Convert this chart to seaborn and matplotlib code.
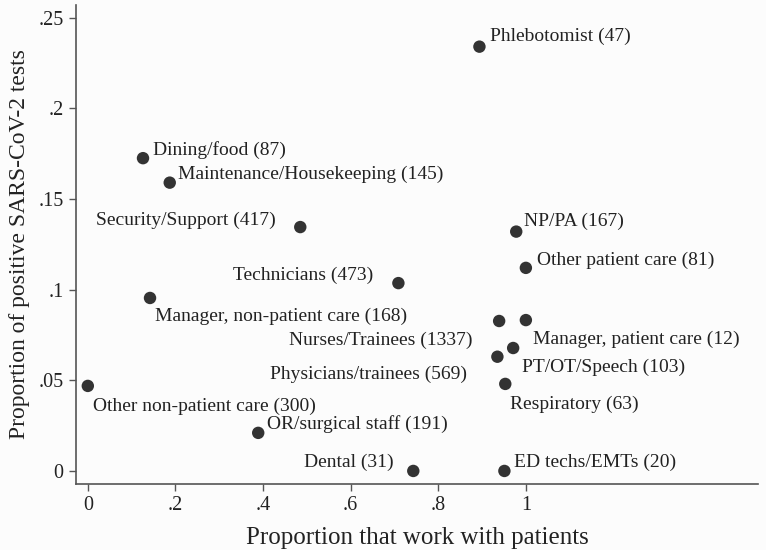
import pandas as pd
import seaborn as sns
import matplotlib.pyplot as plt

# Values
groups = ["Phlebotomist", "Dining/food", "Maintenance/Housekeeping", "Security/Support",
          "NP/PA", "Other patient care", "Technicians", "Manager, non-patient care",
          "Nurses/Trainees", "Manager, patient care", "PT/OT/Speech", "Physicians/trainees",
          "Respiratory", "Other non-patient care", "OR/surgical staff", "Dental", "ED techs/EMTs"]
counts = [47, 87, 145, 417, 167, 81, 473, 168, 1337, 12, 103, 569, 63, 300, 191, 31, 20]
prop_patients = [0.894, 0.126, 0.187, 0.485, 0.978, 1.0, 0.709, 0.142,
                 0.939, 1.0, 0.971, 0.935, 0.953, 0.0, 0.389, 0.743, 0.951]
prop_positive = [0.234, 0.1725, 0.159, 0.1345, 0.132, 0.112, 0.1036, 0.0954,
                 0.0827, 0.0832, 0.0678, 0.063, 0.048, 0.0469, 0.021, 0.0, 0.0]

# label placement per point: offset in pixels (dx, dy); negative dx -> label on the left
label_dx = [11, 10, 8, -25, 8, 11, -25, 5, -27, 7, 9, -30, 5, 5, 9, -20, 10]
label_dy = [10, 8, 8, 7, 10, 8, 8, -18, -19, -19, -19, -18, -20, -20, 9, 9, 9]

df = pd.DataFrame({"group": groups, "n": counts,
                   "x": prop_patients, "y": prop_positive})
df["label"] = df["group"] + " (" + df["n"].astype(str) + ")"

sns.set_style("white")
plt.rcParams["font.family"] = ["Liberation Serif", "DejaVu Serif"]
plt.rcParams["axes.facecolor"] = "#fcfcfc"
plt.rcParams["figure.facecolor"] = "#fcfcfc"

fig = plt.figure(figsize=(7.66, 5.5), dpi=100)
ax = fig.add_axes([0.0992, 0.12, 0.8904, 0.871])

sns.scatterplot(data=df, x="x", y="y", color="#333333", s=80,
                edgecolor="none", ax=ax, zorder=3)

for (_, row), dx, dy in zip(df.iterrows(), label_dx, label_dy):
    ax.annotate(row["label"], (row["x"], row["y"]), xytext=(dx, dy),
                textcoords="offset pixels", ha="left" if dx > 0 else "right",
                va="center", fontsize=14, color="#222222")

ax.set_xlim(-0.027, 1.53)
ax.set_ylim(-0.0072, 0.257)
xt = [0, 0.2, 0.4, 0.6, 0.8, 1.0]
yt = [0, 0.05, 0.1, 0.15, 0.2, 0.25]
ax.set_xticks(xt)
ax.set_xticklabels(["0", ".2", ".4", ".6", ".8", "1"])
ax.set_yticks(yt)
ax.set_yticklabels(["0", ".05", ".1", ".15", ".2", ".25"])
ax.tick_params(axis="both", direction="out", length=5, width=1, color="#555555",
               labelsize=14.5, labelcolor="#222222", pad=4, bottom=True, left=True)

sns.despine(ax=ax)
for sp in ["left", "bottom"]:
    ax.spines[sp].set_color("#555555")
    ax.spines[sp].set_linewidth(1.2)

ax.set_xlabel("Proportion that work with patients", fontsize=18, color="#222222", labelpad=8)
ax.set_ylabel("Proportion of positive SARS-CoV-2 tests", fontsize=17, color="#222222", labelpad=6)

plt.savefig("out.png", dpi=100, facecolor=fig.get_facecolor())
